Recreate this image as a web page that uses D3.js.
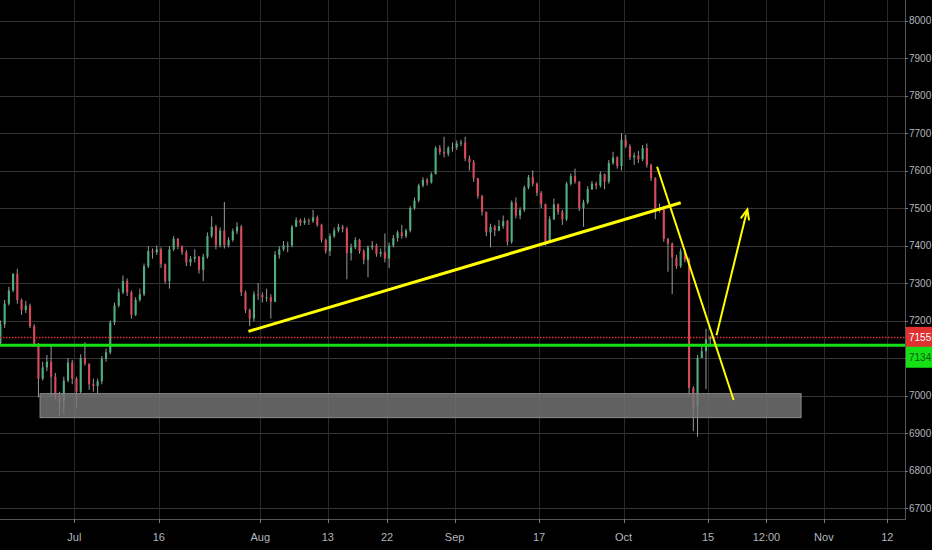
<!DOCTYPE html>
<html>
<head>
<meta charset="utf-8">
<script src="https://cdn.jsdelivr.net/npm/d3@7"></script>
<style>
  body { margin: 0; background: #000; }
  svg { display: block; }
</style>
</head>
<body>
<div id="divId"></div>
<script>
// half-day candles (first candle open = firstOpen, then open = previous close)
var firstOpen = 7140;
var closes = [
  7190, 7245, 7280, 7325, 7255, 7228, 7240, 7185, 7138, 7045,
  7075, 7090, 7050, 7000, 6985, 7040, 7088, 7045, 7010, 7100,
  7085, 7030, 7025, 7038, 7098, 7115, 7195, 7240, 7275, 7305,
  7275, 7215, 7255, 7270, 7345, 7385, 7382, 7390, 7350, 7305,
  7390, 7418, 7398, 7382, 7355, 7365, 7370, 7335, 7370, 7425,
  7450, 7400, 7440, 7400, 7415, 7438, 7450, 7275, 7228, 7205,
  7270, 7268, 7262, 7262, 7250, 7375, 7390, 7400, 7400, 7450,
  7468, 7460, 7467, 7465, 7475, 7455, 7415, 7385, 7425, 7440,
  7450, 7445, 7380, 7395, 7415, 7385, 7362, 7395, 7400, 7378,
  7382, 7365, 7400, 7420, 7435, 7425, 7440, 7500, 7520, 7560,
  7575, 7568, 7590, 7660, 7650, 7645, 7660, 7662, 7672, 7675,
  7632, 7622, 7580, 7532, 7490, 7435, 7450, 7440, 7452, 7465,
  7410, 7515, 7480, 7495, 7555, 7582, 7565, 7540, 7510, 7410,
  7470, 7510, 7490, 7470, 7565, 7585, 7570, 7500, 7515, 7550,
  7565, 7560, 7590, 7570, 7620, 7635, 7612, 7682, 7665, 7635,
  7640, 7630, 7660, 7615, 7580, 7498, 7500, 7418, 7405, 7368,
  7345, 7385, 7362, 7020, 6970, 7100, 7118, 7150, 7155
];
var highs = [
  7200, 7255, 7290, 7325, 7338, 7258, 7252, 7245, 7190, 7140,
  7090, 7108, 7135, 7060, 7010, 7050, 7100, 7095, 7050, 7110,
  7142, 7085, 7045, 7045, 7105, 7125, 7200, 7248, 7285, 7320,
  7312, 7280, 7262, 7285, 7352, 7398, 7392, 7400, 7395, 7352,
  7398, 7425, 7420, 7400, 7388, 7372, 7390, 7372, 7378, 7435,
  7478, 7455, 7448, 7516, 7422, 7445, 7462, 7455, 7280, 7232,
  7278, 7300, 7275, 7285, 7270, 7385, 7398, 7412, 7410, 7455,
  7475, 7472, 7474, 7472, 7495, 7480, 7458, 7418, 7432, 7448,
  7458, 7455, 7450, 7405, 7422, 7418, 7390, 7400, 7412, 7405,
  7392, 7432, 7408, 7428, 7440, 7455, 7445, 7505, 7528, 7565,
  7582, 7580, 7595, 7665, 7668, 7690, 7665, 7675, 7680, 7682,
  7690, 7640, 7628, 7580, 7535, 7490, 7458, 7455, 7468, 7480,
  7468, 7520, 7528, 7502, 7560, 7588, 7600, 7568, 7545, 7512,
  7478, 7525, 7512, 7495, 7570, 7592, 7605, 7572, 7522, 7558,
  7572, 7570, 7598, 7592, 7628, 7650, 7638, 7700, 7695, 7670,
  7648, 7652, 7668, 7672, 7618, 7582, 7512, 7505, 7420, 7408,
  7375, 7392, 7388, 7368, 7025, 7108, 7135, 7178, 7160
];
var lows = [
  7135, 7180, 7240, 7275, 7245, 7215, 7220, 7180, 7130, 6995,
  7040, 7065, 7000, 6990, 6945, 6950, 7035, 7030, 6968, 7005,
  7080, 7015, 7010, 7005, 7030, 7090, 7110, 7188, 7235, 7270,
  7265, 7205, 7212, 7250, 7265, 7340, 7365, 7375, 7340, 7298,
  7285, 7385, 7390, 7375, 7345, 7345, 7355, 7325, 7305, 7365,
  7420, 7390, 7395, 7392, 7395, 7410, 7430, 7265, 7220, 7185,
  7198, 7255, 7248, 7250, 7205, 7250, 7365, 7385, 7382, 7395,
  7450, 7452, 7455, 7455, 7460, 7450, 7408, 7378, 7372, 7420,
  7435, 7435, 7310, 7360, 7390, 7378, 7350, 7315, 7388, 7370,
  7370, 7355, 7340, 7395, 7410, 7418, 7420, 7435, 7495, 7515,
  7555, 7560, 7565, 7590, 7642, 7635, 7638, 7650, 7655, 7665,
  7625, 7600, 7570, 7525, 7480, 7425, 7395, 7425, 7438, 7445,
  7400, 7405, 7472, 7470, 7490, 7550, 7558, 7532, 7500, 7400,
  7408, 7468, 7482, 7455, 7465, 7560, 7565, 7492, 7450, 7510,
  7548, 7550, 7555, 7550, 7565, 7615, 7605, 7600, 7660, 7628,
  7615, 7620, 7625, 7608, 7572, 7470, 7488, 7410, 7330, 7270,
  7338, 7340, 7355, 7000, 6905, 6890, 7100, 7017, 7130
];
var firstCandleDay = -8.75;   // trading days, Jul 2 = 0
var candleStep = 0.5;

var timeTickDays = [0, 10, 22, 30, 37, 45, 55, 65, 75, 81.9, 88.7, 96.2];
var timeTickLabels = ["Jul", "16", "Aug", "13", "22", "Sep", "17", "Oct", "15", "12:00", "Nov", "12"];
var priceTicks = [6700, 6800, 6900, 7000, 7100, 7200, 7300, 7400, 7500, 7600, 7700, 7800, 7900, 8000];

var lastPrice = 7155;
var supportLevel = 7134;
var zone = { from: -4.06, to: 86.0, top: 7005, bottom: 6941 };
// drawn lines: [day, price] -> [day, price]
var trendUp = [[20.6, 7171], [71.76, 7514]];
var trendDown = [[68.96, 7610], [78.02, 6988]];
var arrowPath = [[75.99, 7161], [79.64, 7496]];

var width = 932;
var height = 550;
var plotRight = 905;
var plotBottom = 519;

var candles = closes.map(function (c, i) {
  return {
    day: firstCandleDay + i * candleStep,
    open: i === 0 ? firstOpen : closes[i - 1],
    high: highs[i],
    low: lows[i],
    close: c
  };
});

var x = d3.scaleLinear().domain([-8.8, 98.3]).range([0, plotRight]);
var y = d3.scaleLinear().domain([6670.7, 8054.7]).range([plotBottom, 0]);

var chart = d3.select("#divId")
  .append("svg")
  .attr("width", width)
  .attr("height", height)
  .style("background", "#000")
  .style("font-family", "'Liberation Sans', Arial, sans-serif");

var plot = chart.append("g");

// grid
plot.selectAll("line.gy")
  .data(priceTicks)
  .enter().append("line")
  .attr("class", "gy")
  .attr("x1", 0).attr("x2", plotRight)
  .attr("y1", function (d) { return Math.round(y(d)) + 0.5; })
  .attr("y2", function (d) { return Math.round(y(d)) + 0.5; })
  .attr("stroke", "#363636");

plot.selectAll("line.gx")
  .data(timeTickDays)
  .enter().append("line")
  .attr("class", "gx")
  .attr("x1", function (d) { return Math.round(x(d)) + 0.5; })
  .attr("x2", function (d) { return Math.round(x(d)) + 0.5; })
  .attr("y1", 0).attr("y2", plotBottom)
  .attr("stroke", "#2a2a2a");

// candles
var bodyW = (x(candleStep) - x(0)) * 0.5;
function col(d) { return d.close >= d.open ? "#4fae80" : "#d9495a"; }

plot.selectAll("line.stem")
  .data(candles)
  .enter().append("line")
  .attr("class", "stem")
  .attr("x1", function (d) { return x(d.day); })
  .attr("x2", function (d) { return x(d.day); })
  .attr("y1", function (d) { return y(d.high); })
  .attr("y2", function (d) { return y(d.low); })
  .attr("stroke", "#9a9a9a")
  .attr("stroke-width", 1);

plot.selectAll("rect.body")
  .data(candles)
  .enter().append("rect")
  .attr("class", "body")
  .attr("x", function (d) { return x(d.day) - bodyW / 2; })
  .attr("y", function (d) { return y(Math.max(d.open, d.close)); })
  .attr("width", bodyW)
  .attr("height", function (d) { return Math.max(1, y(Math.min(d.open, d.close)) - y(Math.max(d.open, d.close))); })
  .attr("fill", col);

// grey zone
plot.append("rect")
  .attr("x", x(zone.from))
  .attr("y", y(zone.top))
  .attr("width", x(zone.to) - x(zone.from))
  .attr("height", y(zone.bottom) - y(zone.top))
  .attr("fill", "#767676")
  .attr("fill-opacity", 0.82)
  .attr("stroke", "#8a8a8a")
  .attr("stroke-width", 1);

// level lines
plot.append("line")
  .attr("x1", 0).attr("x2", plotRight)
  .attr("y1", y(lastPrice)).attr("y2", y(lastPrice))
  .attr("stroke", "#e0302f")
  .attr("stroke-width", 1.5)
  .attr("stroke-dasharray", "1.5,1.5");

plot.append("line")
  .attr("x1", 0).attr("x2", plotRight)
  .attr("y1", y(supportLevel)).attr("y2", y(supportLevel))
  .attr("stroke", "#16e016")
  .attr("stroke-width", 3);

// yellow drawings
var seg = d3.line()
  .x(function (d) { return x(d[0]); })
  .y(function (d) { return y(d[1]); });

plot.append("path").attr("d", seg(trendUp))
  .attr("fill", "none").attr("stroke", "#ffff00").attr("stroke-width", 3);
plot.append("path").attr("d", seg(trendDown))
  .attr("fill", "none").attr("stroke", "#ffff00").attr("stroke-width", 2);
plot.append("path").attr("d", seg(arrowPath))
  .attr("fill", "none").attr("stroke", "#ffff00").attr("stroke-width", 2);

// arrow head
var tx = x(arrowPath[1][0]), ty = y(arrowPath[1][1]);
var ang = Math.atan2(ty - y(arrowPath[0][1]), tx - x(arrowPath[0][0]));
var headLen = 11, spread = 0.4;
plot.append("path")
  .attr("d", "M" + (tx - headLen * Math.cos(ang - spread)) + "," + (ty - headLen * Math.sin(ang - spread)) +
    "L" + tx + "," + ty +
    "L" + (tx - headLen * Math.cos(ang + spread)) + "," + (ty - headLen * Math.sin(ang + spread)))
  .attr("fill", "none").attr("stroke", "#ffff00").attr("stroke-width", 2)
  .attr("stroke-linejoin", "miter");

// price axis
chart.append("line")
  .attr("x1", plotRight + 0.5).attr("x2", plotRight + 0.5)
  .attr("y1", 0).attr("y2", plotBottom)
  .attr("stroke", "#555");

chart.selectAll("line.ytick")
  .data(priceTicks)
  .enter().append("line")
  .attr("class", "ytick")
  .attr("x1", plotRight).attr("x2", plotRight + 3)
  .attr("y1", function (d) { return Math.round(y(d)) + 0.5; })
  .attr("y2", function (d) { return Math.round(y(d)) + 0.5; })
  .attr("stroke", "#777");

chart.selectAll("text.yrule")
  .data(priceTicks)
  .enter().append("text")
  .attr("class", "yrule")
  .attr("x", plotRight + 4)
  .attr("y", function (d) { return y(d); })
  .attr("dy", "0.35em")
  .attr("fill", "#b2b5be")
  .attr("font-size", 10)
  .text(String);

// time axis
chart.append("line")
  .attr("x1", 0).attr("x2", plotRight + 1)
  .attr("y1", plotBottom + 0.5).attr("y2", plotBottom + 0.5)
  .attr("stroke", "#555");

chart.selectAll("line.xtick")
  .data(timeTickDays)
  .enter().append("line")
  .attr("class", "xtick")
  .attr("x1", function (d) { return Math.round(x(d)) + 0.5; })
  .attr("x2", function (d) { return Math.round(x(d)) + 0.5; })
  .attr("y1", plotBottom).attr("y2", plotBottom + 4)
  .attr("stroke", "#777");

chart.selectAll("text.xrule")
  .data(timeTickDays)
  .enter().append("text")
  .attr("class", "xrule")
  .attr("x", function (d) { return x(d); })
  .attr("y", plotBottom + 22)
  .attr("text-anchor", "middle")
  .attr("fill", "#b2b5be")
  .attr("font-size", 11)
  .text(function (d, i) { return timeTickLabels[i]; });

// price badges
var badges = [
  { v: lastPrice, bg: "#e0302f", fg: "#ffffff", y0: y(lastPrice) - 10.5 },
  { v: supportLevel, bg: "#16e016", fg: "#0a5a0a", y0: y(supportLevel) + 1.5 }
];
chart.selectAll("rect.badge")
  .data(badges)
  .enter().append("rect")
  .attr("class", "badge")
  .attr("x", plotRight + 1)
  .attr("y", function (d) { return d.y0; })
  .attr("width", width - plotRight - 1)
  .attr("height", 21)
  .attr("fill", function (d) { return d.bg; });

chart.selectAll("text.badge")
  .data(badges)
  .enter().append("text")
  .attr("class", "badge")
  .attr("x", plotRight + 4)
  .attr("y", function (d) { return d.y0 + 10.5; })
  .attr("dy", "0.35em")
  .attr("font-size", 10)
  .attr("fill", function (d) { return d.fg; })
  .text(function (d) { return d.v; });
</script>
</body>
</html>
